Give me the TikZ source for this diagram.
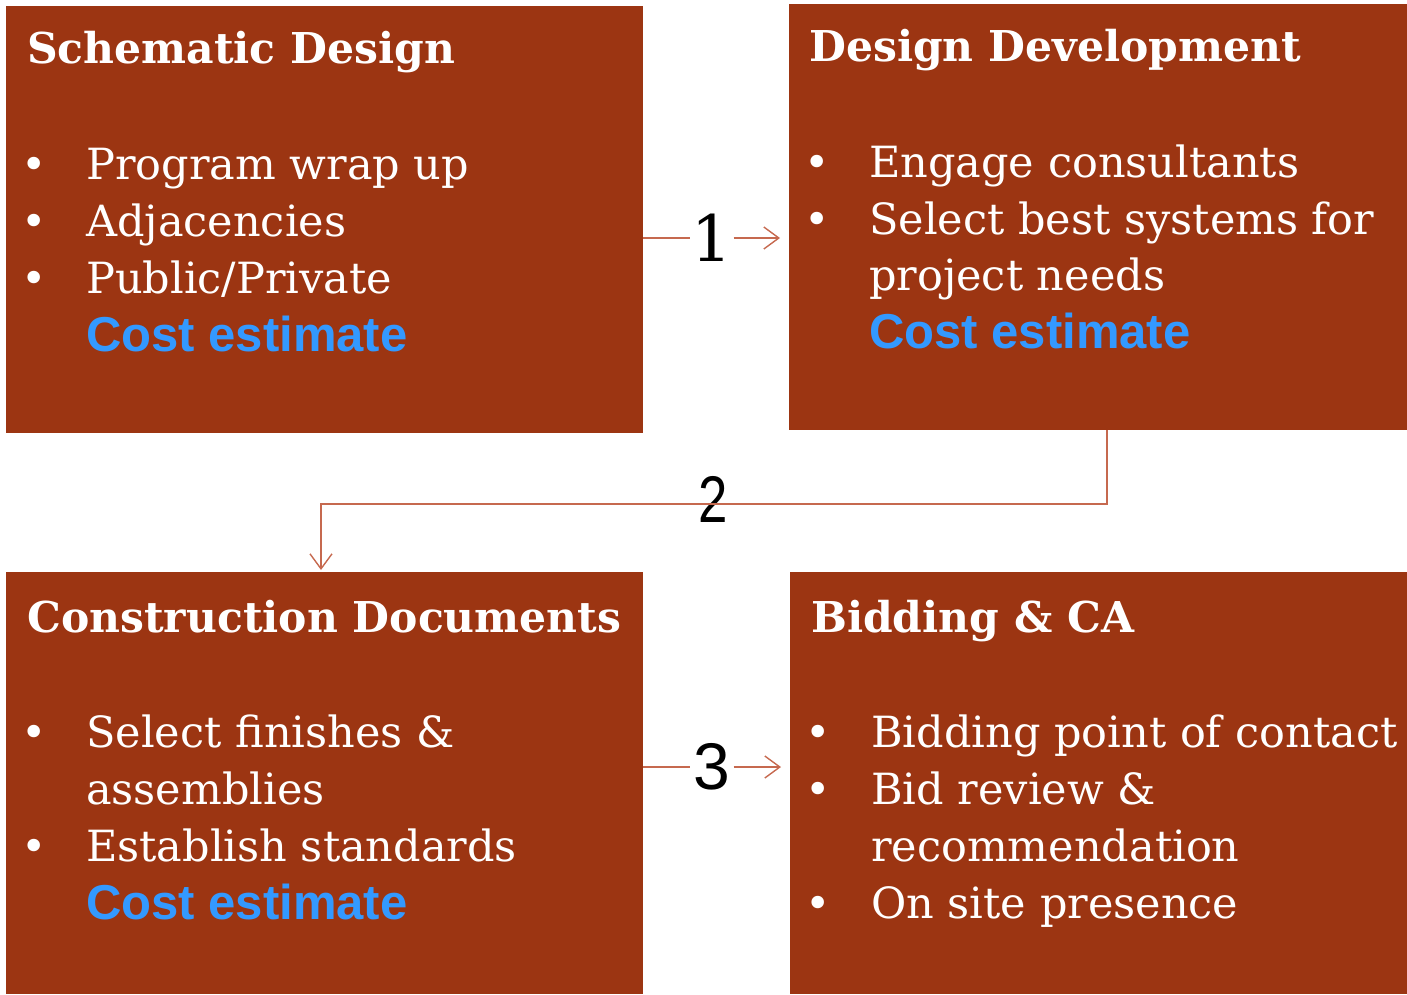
\documentclass[tikz,border=0pt]{standalone}
\usepackage{fontspec}
\setmainfont{DejaVu Serif}
\newfontfamily\costfont{Liberation Sans}[BoldFont={Liberation Sans Bold}]
\newfontfamily\numfont{Liberation Sans}
\usetikzlibrary{arrows.meta}
\definecolor{rust}{HTML}{9C3512}
\definecolor{costblue}{HTML}{3399FF}
\definecolor{conncol}{HTML}{C6694F}
\begin{document}
\begin{tikzpicture}[x=1pt,y=-1pt,
  box/.style={fill=rust,draw=none,anchor=north west,inner sep=0pt},
  ttl/.style={anchor=base west,inner sep=0pt,text=white,font=\fontsize{42.5}{42.5}\selectfont\bfseries},
  itm/.style={anchor=base west,inner sep=0pt,text=white,font=\fontsize{43}{43}\selectfont},
  bul/.style={anchor=base,inner sep=0pt,text=white,font=\fontsize{43}{43}\selectfont},
  cost/.style={anchor=base west,inner sep=0pt,text=costblue,font=\costfont\fontsize{49}{49}\selectfont\bfseries},
  num/.style={inner sep=0pt,minimum width=43pt,minimum height=50pt,text=black},
  conn/.style={draw=conncol,line width=1.4pt},
  arr/.style={conn,-{Straight Barb[length=15pt,width=22pt,line width=1.4pt]}}
]
\useasboundingbox (0,0) rectangle (1407,994);
% boxes
\node[box,minimum width=637pt,minimum height=427pt] (b1) at (6,6) {};
\node[box,minimum width=618pt,minimum height=426pt] (b2) at (789,4) {};
\node[box,minimum width=637pt,minimum height=422pt] (b3) at (6,572) {};
\node[box,minimum width=617pt,minimum height=422pt] (b4) at (790,572) {};
% box 1
\node[ttl] (t1) at (27,63) {Schematic Design};
\node[bul] (b1u1) at (34,179) {•};
\node[itm] (b1i1) at (86,179) {Program wrap up};
\node[bul] (b1u2) at (34,236) {•};
\node[itm] (b1i2) at (86,236) {Adjacencies};
\node[bul] (b1u3) at (34,293) {•};
\node[itm] (b1i3) at (86,293) {Public/Private};
\node[cost] (c1) at (86,351) {Cost estimate};
% box 2
\node[ttl] (t2) at (809,61) {Design Development};
\node[bul] (b2u1) at (817,177) {•};
\node[itm] (b2i1) at (869,177) {Engage consultants};
\node[bul] (b2u2) at (817,234) {•};
\node[itm] (b2i2) at (869,234) {Select best systems for};
\node[itm] (b2i3) at (869,290) {project needs};
\node[cost] (c2) at (869,348) {Cost estimate};
% box 3
\node[ttl] (t3) at (27,632) {Construction Documents};
\node[bul] (b3u1) at (34,747) {•};
\node[itm] (b3i1) at (86,747) {Select finishes \&};
\node[itm] (b3i2) at (86,804) {assemblies};
\node[bul] (b3u2) at (34,861) {•};
\node[itm] (b3i3) at (86,861) {Establish standards};
\node[cost] (c3) at (86,919) {Cost estimate};
% box 4
\node[ttl] (t4) at (811,632) {Bidding \& CA};
\node[bul] (b4u1) at (818,747) {•};
\node[itm] (b4i1) at (871,747) {Bidding point of contact};
\node[bul] (b4u2) at (818,804) {•};
\node[itm] (b4i2) at (871,804) {Bid review \&};
\node[itm] (b4i3) at (871,861) {recommendation};
\node[bul] (b4u3) at (818,918) {•};
\node[itm] (b4i4) at (871,918) {On site presence};
% connector 1
\node[num,font=\fontsize{64}{64}\selectfont] (n1) at (712,238) {1};
\draw[conn] (b1.east |- n1) -- (n1.west);
\draw[arr,shorten >=9pt] (n1.east) -- (b2.west |- n1);
% connector 2
\node[inner sep=0pt,text=black,font=\numfont\fontsize{66}{66}\selectfont] (n2) at (713,499) {\scalebox{0.8}[1]{2}};
\coordinate (s2) at (1107,430);
\coordinate (m2) at (713,504);
\coordinate (e2) at (321,572);
\draw[arr,shorten >=2pt] (s2) -- (s2 |- m2) -- (e2 |- m2) -- (e2);
% connector 3
\node[num,font=\numfont\fontsize{66}{66}\selectfont] (n3) at (712,767) {3};
\draw[conn] (b3.east |- n3) -- (n3.west);
\draw[arr,shorten >=9pt] (n3.east) -- (b4.west |- n3);
\end{tikzpicture}
\end{document}
